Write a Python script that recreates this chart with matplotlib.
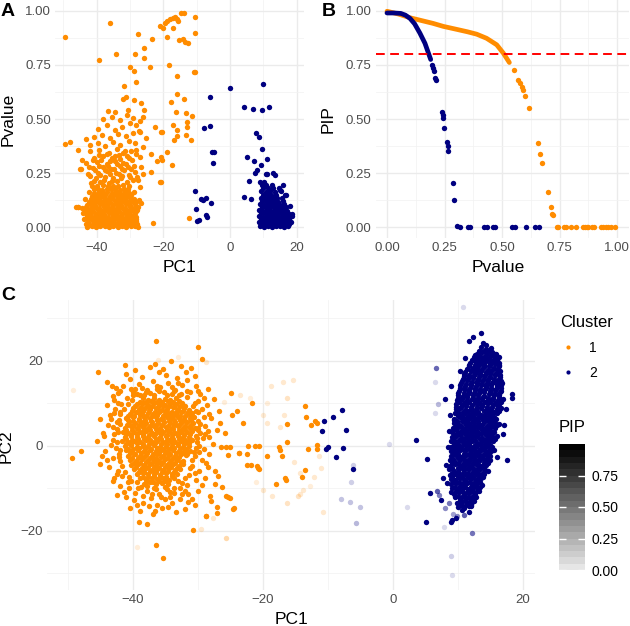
import matplotlib
matplotlib.use("Agg")
import matplotlib.pyplot as plt
from matplotlib.colors import ListedColormap, Normalize
from matplotlib.cm import ScalarMappable
from matplotlib.lines import Line2D

plt.rcParams['font.family'] = ['Liberation Sans', 'DejaVu Sans']

ORANGE = '#FF8C00'
NAVY = '#000080'

# ===============================
# Panel A : PC1 vs Pvalue
# ===============================
a_orange = [
    # dense core
    (-42.8, .003), (-41.5, .006), (-40.1, .002), (-38.9, .005), (-37.6, .004), (-36.3, .002), (-35.0, .006), (-33.7, .003), (-32.4, .005), (-31.1, .002), (-29.8, .004), (-28.5, .006), (-27.6, .003),
    (-43.3, .015), (-42.0, .012), (-40.7, .016), (-39.4, .013), (-38.2, .017), (-36.9, .012), (-35.6, .015), (-34.3, .013), (-33.0, .016), (-31.8, .012), (-30.5, .015), (-29.2, .017), (-28.0, .013),
    (-42.5, .026), (-41.2, .029), (-39.9, .024), (-38.6, .027), (-37.3, .025), (-36.0, .028), (-34.7, .024), (-33.4, .027), (-32.1, .025), (-30.8, .028), (-29.5, .024), (-28.3, .027),
    (-43.8, .038), (-42.6, .040), (-41.3, .036), (-40.0, .039), (-38.7, .037), (-37.4, .040), (-36.1, .036), (-34.8, .039), (-33.5, .037), (-32.2, .040), (-30.9, .036), (-29.6, .039), (-28.2, .037),
    (-43.0, .051), (-41.7, .049), (-40.4, .053), (-39.1, .050), (-37.8, .052), (-36.5, .049), (-35.2, .053), (-33.9, .050), (-32.6, .052), (-31.3, .049), (-30.0, .053), (-28.7, .050),
    (-44.2, .064), (-42.9, .062), (-41.6, .066), (-40.3, .063), (-39.0, .065), (-37.7, .062), (-36.4, .066), (-35.1, .063), (-33.8, .065), (-32.5, .062), (-31.2, .066), (-29.9, .063), (-28.6, .065),
    (-43.6, .077), (-42.3, .079), (-41.0, .075), (-39.7, .078), (-38.4, .076), (-37.1, .079), (-35.8, .075), (-34.5, .078), (-33.2, .076), (-31.9, .079), (-30.6, .075), (-29.3, .078), (-28.1, .076),
    (-45.6, .092), (-44.4, .090), (-43.1, .093), (-41.8, .089), (-40.5, .092), (-39.2, .090), (-37.9, .093), (-36.6, .089), (-35.3, .092), (-34.0, .090), (-32.7, .093), (-31.4, .089), (-30.1, .092), (-28.8, .090), (-27.7, .093),
    (-43.0, .104), (-41.7, .106), (-40.4, .102), (-39.1, .105), (-37.8, .103), (-36.5, .106), (-35.2, .102), (-33.9, .105), (-32.6, .103), (-31.3, .106), (-30.0, .102), (-28.6, .105),
    (-42.4, .118), (-41.1, .116), (-39.8, .120), (-38.5, .117), (-37.2, .119), (-35.9, .116), (-34.6, .120), (-33.3, .117), (-32.0, .119), (-30.7, .116), (-29.4, .120), (-28.2, .117),
    (-43.4, .132), (-41.8, .130), (-40.5, .134), (-39.2, .131), (-37.9, .133), (-36.6, .130), (-35.3, .134), (-34.0, .131), (-32.7, .133), (-31.4, .130), (-30.1, .134), (-28.9, .131),
    (-41.3, .146), (-40.0, .148), (-38.7, .144), (-37.4, .147), (-36.1, .145), (-34.8, .148), (-33.5, .144), (-32.2, .147), (-30.9, .145), (-29.6, .148),
    (-42.2, .161), (-40.7, .159), (-39.4, .163), (-38.1, .160), (-36.8, .162), (-35.5, .159), (-34.2, .163), (-32.9, .160), (-31.6, .162), (-30.3, .159), (-28.8, .163),
    (-40.9, .176), (-39.6, .178), (-38.3, .174), (-37.0, .177), (-35.7, .175), (-34.4, .178), (-33.1, .174), (-31.8, .177), (-30.5, .175),
    (-41.5, .191), (-39.9, .189), (-38.2, .193), (-36.6, .190), (-35.1, .192), (-33.5, .189), (-32.0, .193), (-30.2, .190),
    # middle band
    (-41.6, .205), (-38.9, .210), (-36.2, .203), (-33.8, .215), (-31.0, .208), (-29.1, .220),
    (-40.9, .215), (-37.9, .220), (-35.3, .214), (-32.8, .226), (-30.1, .230), (-28.0, .232),
    (-40.3, .225), (-37.5, .232), (-35.0, .228), (-32.4, .236), (-30.2, .241),
    (-42.0, .236), (-39.0, .240), (-36.1, .244), (-33.4, .245),
    (-42.5, .248), (-39.6, .252), (-36.8, .258), (-34.1, .250), (-31.7, .262), (-28.6, .255),
    (-40.4, .262), (-37.6, .266), (-34.9, .268), (-32.5, .270), (-29.6, .268),
    (-41.0, .272), (-38.2, .278), (-35.6, .270), (-33.0, .283), (-30.5, .276),
    (-42.2, .280), (-39.3, .285), (-36.5, .282), (-33.9, .290), (-31.2, .290), (-28.7, .285),
    (-43.3, .295), (-39.8, .300), (-37.0, .292), (-34.4, .305), (-32.0, .298), (-29.4, .310),
    (-41.2, .310), (-38.6, .312), (-35.9, .308), (-33.0, .315), (-30.3, .318), (-44.8, .270), (-44.5, .310),
    (-40.7, .322), (-38.0, .330), (-35.5, .318), (-33.3, .335), (-30.8, .327), (-28.2, .340),
    (-39.3, .335), (-36.8, .338), (-34.4, .328), (-32.2, .342), (-29.7, .350),
    (-41.9, .350), (-39.2, .358), (-36.4, .345), (-34.0, .362), (-31.5, .352),
    # upper scatter
    (-42.0, .380), (-39.7, .390), (-37.6, .375), (-35.2, .395), (-32.9, .382), (-30.4, .400), (-28.5, .390),
    (-40.9, .415), (-38.3, .425), (-36.0, .410), (-33.6, .430), (-31.2, .420), (-29.0, .435), (-27.3, .445),
    (-39.5, .455), (-36.9, .470), (-34.5, .450), (-32.3, .465), (-30.0, .480), (-28.1, .470),
    (-38.0, .500), (-35.4, .510), (-33.1, .495), (-31.0, .520), (-29.2, .505), (-27.0, .490),
    (-36.5, .535), (-34.4, .532), (-30.6, .540), (-26.1, .510),
    (-26.6, .573), (-25.9, .542), (-28.8, .588), (-32.1, .591), (-31.1, .603), (-26.9, .441),
    (-25.1, .410), (-26.1, .372), (-28.1, .356), (-27.1, .325), (-26.6, .279), (-26.1, .248),
    (-27.6, .218), (-27.1, .187), (-27.3, .125), (-26.6, .110), (-27.9, .079), (-28.1, .048),
    # outliers
    (-49.4, .878), (-36.1, .943), (-34.3, .800), (-39.4, .773), (-27.5, .895), (-23.5, .870),
    (-25.9, .827), (-28.6, .800), (-25.9, .784), (-30.1, .739), (-28.7, .722), (-24.1, .742),
    (-31.7, .653), (-28.3, .673), (-21.1, .930), (-20.1, .920), (-19.0, .951), (-18.0, .962),
    (-17.1, .966), (-16.5, .971), (-16.0, .962), (-19.5, .943), (-19.0, .881), (-14.8, .992),
    (-13.8, .992), (-10.5, .971), (-10.5, .897), (-15.3, .866), (-14.1, .869), (-13.5, .858),
    (-12.7, .853), (-18.3, .748), (-10.7, .719), (-10.4, .715), (-16.0, .698), (-16.0, .616),
    (-17.6, .580), (-13.8, .591), (-16.2, .532), (-13.2, .529), (-11.4, .515), (-17.1, .471),
    (-13.0, .486), (-13.0, .462), (-16.0, .449), (-16.8, .403), (-15.8, .421), (-13.2, .426),
    (-11.7, .403), (-20.6, .441), (-19.0, .347), (-20.4, .310), (-17.4, .286), (-20.8, .210),
    (-12.2, .042), (-49.6, .384), (-48.1, .395), (-45.6, .356), (-45.1, .267), (-46.1, .094),
    (-45.5, .094), (-43.3, .406), (-23.6, .338), (-21.9, .307), (-20.7, .325), (-21.1, .208),
    (-23.1, .020), (-20.3, .441), (-22.4, .464), (-23.6, .256), (-17.1, .921), (-15.6, .955),
]

a_navy = [
    # dense core
    (8.9, .004), (10.1, .003), (11.3, .005), (12.5, .002), (13.7, .004), (14.9, .006), (16.1, .003), (17.3, .005),
    (9.4, .014), (10.6, .016), (11.8, .013), (13.0, .015), (14.2, .012), (15.4, .016), (16.6, .014), (17.8, .013),
    (8.7, .026), (9.9, .024), (11.1, .027), (12.3, .025), (13.5, .028), (14.7, .024), (15.9, .027), (17.1, .025), (18.3, .026),
    (9.2, .038), (10.4, .040), (11.6, .037), (12.8, .039), (14.0, .036), (15.2, .040), (16.4, .038), (17.6, .037),
    (8.6, .051), (9.8, .049), (11.0, .052), (12.2, .050), (13.4, .053), (14.6, .049), (15.8, .052), (17.0, .050), (18.6, .051),
    (9.3, .064), (10.5, .066), (11.7, .063), (12.9, .065), (14.1, .062), (15.3, .066), (16.5, .064), (17.7, .063),
    (8.8, .078), (10.0, .076), (11.2, .079), (12.4, .077), (13.6, .080), (14.8, .076), (16.0, .079), (17.2, .077),
    (9.5, .092), (10.7, .094), (11.9, .091), (13.1, .093), (14.3, .090), (15.5, .094), (16.7, .092),
    (9.0, .106), (10.2, .104), (11.4, .107), (12.6, .105), (13.8, .108), (15.0, .104), (16.2, .107),
    (9.6, .120), (10.8, .122), (12.0, .119), (13.2, .121), (14.4, .118), (15.9, .122),
    (9.2, .135), (10.4, .133), (11.6, .136), (12.8, .134), (14.0, .137), (15.6, .133),
    (9.8, .150), (11.1, .152), (12.4, .149), (13.9, .151), (16.4, .150),
    (9.4, .165), (10.7, .163), (12.1, .166), (13.6, .164), (15.2, .167),
    (9.9, .180), (11.3, .182), (12.8, .179), (14.6, .181),
    (9.6, .195), (10.9, .197), (12.5, .194), (10.3, .210),
    (17.9, .100), (18.7, .060), (16.8, .150), (15.0, .170),
    # scattered
    (0.0, .642), (9.8, .660), (-6.0, .603), (4.3, .557), (7.0, .546), (9.5, .542), (11.6, .557),
    (-7.7, .460), (-6.1, .468), (7.8, .434), (8.6, .418), (9.7, .361), (-5.5, .347), (-4.7, .347),
    (-5.2, .295), (5.0, .323), (7.2, .307), (11.1, .315), (9.2, .287), (8.0, .264), (7.5, .251),
    (10.7, .245), (11.2, .247), (13.0, .250), (13.5, .241), (5.8, .213), (9.0, .210), (15.8, .194),
    (4.2, .140), (6.4, .130), (-10.6, .167), (-8.7, .130), (-8.2, .125), (-7.3, .137), (-5.7, .110),
    (-10.3, .082), (-7.2, .056), (-6.8, .045), (-9.8, .030), (-9.3, .031),
]

# ===============================
# Panel B : Pvalue vs PIP
# ===============================
b_orange_curve = [
    (0.0, .998), (0.05, .985), (0.10, .968), (0.15, .955), (0.20, .942), (0.245, .928),
    (0.30, .915), (0.35, .903), (0.39, .892), (0.433, .873), (0.477, .843), (0.506, .804), (0.532, .761),
]
b_orange_points = [
    (0.554, .727), (0.571, .680), (0.578, .668), (0.588, .650), (0.593, .636), (0.600, .605),
    (0.617, .552), (0.655, .387), (0.665, .336), (0.672, .298), (0.698, .161), (0.711, .092),
    (0.717, .062), (0.720, .055), (0.738, .0), (0.745, .0), (0.770, .0), (0.780, .0), (0.800, .0),
    (0.820, .0), (0.850, .0), (0.860, .0), (0.870, .0), (0.875, .0), (0.890, .0), (0.900, .0),
    (0.930, .0), (0.940, .0), (0.950, .0), (0.960, .0), (0.975, .0), (0.990, .0),
]
b_navy_curve = [
    (0.0, .990), (0.03, .990), (0.06, .988), (0.08, .980), (0.10, .965), (0.12, .940),
    (0.143, .897), (0.165, .850), (0.183, .796), (0.19, .775),
]
b_navy_points = [
    (0.196, .750), (0.200, .735), (0.206, .720), (0.210, .690), (0.213, .680), (0.238, .534),
    (0.242, .518), (0.245, .503), (0.249, .460), (0.259, .395), (0.264, .375), (0.267, .352),
    (0.286, .202), (0.293, .125), (0.303, .004), (0.317, .0), (0.354, .0), (0.361, .0),
    (0.420, .0), (0.435, .0), (0.461, .0), (0.468, .0), (0.543, .0), (0.555, .0), (0.604, .0),
    (0.645, .0), (0.659, .0),
]
pip_threshold = 0.8

# ===============================
# Panel C : PC1 vs PC2 (alpha = PIP)
# ===============================
c_orange = [
    # dense core
    (-38.4, 11.2), (-37.6, 10.8), (-36.7, 11.3), (-35.9, 10.9), (-35.0, 11.1), (-34.2, 10.7), (-33.3, 11.4),
    (-38.9, 10.4), (-38.0, 10.3), (-37.2, 10.5), (-36.3, 10.4), (-35.5, 10.3), (-34.6, 10.5), (-33.8, 10.3), (-32.9, 10.5),
    (-39.3, 9.8), (-38.5, 10.1), (-37.6, 9.7), (-36.8, 10.2), (-35.9, 9.9), (-35.1, 9.6), (-34.2, 10.0), (-33.4, 9.8), (-32.4, 10.2),
    (-39.6, 9.3), (-38.7, 9.2), (-37.8, 9.4), (-37.0, 9.3), (-36.1, 9.2), (-35.3, 9.4), (-34.4, 9.3), (-33.6, 9.2), (-32.7, 9.4), (-31.9, 9.3),
    (-39.9, 8.9), (-39.0, 8.6), (-38.1, 9.0), (-37.3, 8.7), (-36.4, 8.9), (-35.5, 8.5), (-34.7, 8.8), (-33.8, 9.1), (-33.0, 8.6), (-32.1, 8.9), (-31.4, 8.5),
    (-40.1, 8.2), (-39.2, 8.1), (-38.4, 8.3), (-37.5, 8.2), (-36.6, 8.1), (-35.8, 8.3), (-34.9, 8.2), (-34.0, 8.1), (-33.2, 8.3), (-32.3, 8.2), (-31.5, 8.1),
    (-40.4, 7.6), (-39.5, 7.9), (-38.6, 7.5), (-37.7, 7.8), (-36.9, 7.6), (-36.0, 7.9), (-35.1, 7.5), (-34.3, 7.8), (-33.4, 7.6), (-32.6, 7.9), (-31.7, 7.5), (-30.9, 7.7),
    (-40.7, 7.1), (-39.8, 7.0), (-38.9, 7.2), (-38.0, 7.1), (-37.1, 7.0), (-36.3, 7.2), (-35.4, 7.1), (-34.5, 7.0), (-33.6, 7.2), (-32.8, 7.1), (-31.9, 7.0), (-31.0, 7.2),
    (-41.0, 6.5), (-40.0, 6.8), (-39.1, 6.4), (-38.2, 6.7), (-37.3, 6.5), (-36.5, 6.8), (-35.6, 6.4), (-34.7, 6.7), (-33.9, 6.5), (-33.0, 6.8), (-32.1, 6.4), (-31.2, 6.6), (-30.6, 6.9),
    (-40.8, 6.0), (-39.9, 5.9), (-39.0, 6.1), (-38.1, 6.0), (-37.2, 5.9), (-36.3, 6.1), (-35.4, 6.0), (-34.5, 5.9), (-33.6, 6.1), (-32.8, 6.0), (-31.9, 5.9), (-31.0, 6.1),
    (-40.6, 5.6), (-39.7, 5.3), (-38.8, 5.6), (-37.9, 5.4), (-37.0, 5.7), (-36.1, 5.3), (-35.2, 5.6), (-34.3, 5.4), (-33.5, 5.7), (-32.6, 5.3), (-31.7, 5.6), (-30.8, 5.4),
    (-40.9, 4.9), (-40.0, 4.8), (-39.1, 5.0), (-38.2, 4.9), (-37.3, 4.8), (-36.4, 5.0), (-35.5, 4.9), (-34.6, 4.8), (-33.7, 5.0), (-32.9, 4.9), (-32.0, 4.8), (-31.1, 5.0),
    (-41.2, 4.3), (-40.3, 4.6), (-39.4, 4.2), (-38.5, 4.5), (-37.6, 4.3), (-36.7, 4.6), (-35.8, 4.2), (-34.9, 4.5), (-34.0, 4.3), (-33.1, 4.6), (-32.2, 4.2), (-31.3, 4.5), (-30.5, 4.3),
    (-41.0, 3.8), (-40.1, 3.7), (-39.2, 3.9), (-38.3, 3.8), (-37.4, 3.7), (-36.5, 3.9), (-35.6, 3.8), (-34.7, 3.7), (-33.8, 3.9), (-32.9, 3.8), (-32.0, 3.7), (-31.1, 3.9),
    (-41.5, 3.4), (-40.7, 3.1), (-39.8, 3.4), (-38.9, 3.2), (-38.0, 3.5), (-37.1, 3.1), (-36.2, 3.4), (-35.3, 3.2), (-34.4, 3.5), (-33.5, 3.1), (-32.6, 3.4), (-31.7, 3.2), (-30.9, 3.5),
    (-41.1, 2.7), (-40.2, 2.6), (-39.3, 2.8), (-38.4, 2.7), (-37.5, 2.6), (-36.6, 2.8), (-35.7, 2.7), (-34.8, 2.6), (-33.9, 2.8), (-33.0, 2.7), (-32.1, 2.6), (-31.2, 2.8),
    (-41.2, 2.1), (-40.3, 2.4), (-39.4, 2.0), (-38.5, 2.3), (-37.6, 2.1), (-36.7, 2.4), (-35.8, 2.0), (-34.9, 2.3), (-34.0, 2.1), (-33.1, 2.4), (-32.2, 2.0), (-31.3, 2.2),
    (-41.0, 1.6), (-40.1, 1.5), (-39.2, 1.7), (-38.3, 1.6), (-37.4, 1.5), (-36.5, 1.7), (-35.6, 1.6), (-34.7, 1.5), (-33.8, 1.7), (-32.9, 1.6), (-32.0, 1.5), (-31.2, 1.7),
    (-41.6, 1.2), (-40.7, 0.9), (-39.8, 1.2), (-38.9, 1.0), (-38.0, 1.3), (-37.1, 0.9), (-36.2, 1.2), (-35.3, 1.0), (-34.4, 1.3), (-33.5, 0.9), (-32.6, 1.2), (-31.7, 1.0), (-30.9, 1.3),
    (-41.1, 0.5), (-40.2, 0.4), (-39.3, 0.6), (-38.4, 0.5), (-37.5, 0.4), (-36.6, 0.6), (-35.7, 0.5), (-34.8, 0.4), (-33.9, 0.6), (-33.0, 0.5), (-32.1, 0.4), (-31.3, 0.6),
    (-41.2, -0.1), (-40.3, 0.2), (-39.4, -0.2), (-38.5, 0.1), (-37.6, -0.1), (-36.7, 0.2), (-35.8, -0.2), (-34.9, 0.1), (-34.0, -0.1), (-33.1, 0.2), (-32.2, -0.2), (-31.3, 0.1),
    (-40.8, -0.6), (-39.9, -0.7), (-39.0, -0.5), (-38.1, -0.6), (-37.2, -0.7), (-36.3, -0.5), (-35.4, -0.6), (-34.5, -0.7), (-33.6, -0.5), (-32.7, -0.6), (-31.8, -0.7),
    (-41.0, -1.0), (-40.1, -1.3), (-39.2, -0.9), (-38.3, -1.2), (-37.4, -1.0), (-36.5, -1.3), (-35.6, -0.9), (-34.7, -1.2), (-33.8, -1.0), (-32.9, -1.3), (-32.0, -0.9), (-31.2, -1.1),
    (-40.5, -1.7), (-39.6, -1.8), (-38.7, -1.6), (-37.8, -1.7), (-36.9, -1.8), (-36.0, -1.6), (-35.1, -1.7), (-34.2, -1.8), (-33.3, -1.6), (-32.4, -1.7), (-31.6, -1.8),
    (-40.7, -2.3), (-39.8, -2.0), (-38.9, -2.3), (-38.0, -2.1), (-37.1, -2.4), (-36.2, -2.0), (-35.3, -2.3), (-34.4, -2.1), (-33.5, -2.4), (-32.6, -2.0), (-31.8, -2.2),
    (-40.1, -2.8), (-39.2, -2.9), (-38.3, -2.7), (-37.4, -2.8), (-36.5, -2.9), (-35.6, -2.7), (-34.7, -2.8), (-33.8, -2.9), (-32.9, -2.7),
    (-40.5, -3.2), (-39.5, -3.5), (-38.6, -3.1), (-37.7, -3.4), (-36.8, -3.2), (-35.9, -3.5), (-35.0, -3.1), (-34.1, -3.4), (-33.2, -3.2), (-32.3, -3.5),
    (-39.8, -3.9), (-38.9, -4.0), (-38.0, -3.8), (-37.1, -3.9), (-36.2, -4.0), (-35.3, -3.8), (-34.4, -3.9), (-33.5, -4.0), (-32.6, -3.8),
    (-40.2, -4.5), (-39.2, -4.2), (-38.3, -4.5), (-37.4, -4.3), (-36.5, -4.6), (-35.6, -4.2), (-34.7, -4.5), (-33.8, -4.3), (-32.9, -4.6), (-32.2, -4.3),
    (-39.5, -5.0), (-38.6, -5.1), (-37.7, -4.9), (-36.8, -5.0), (-35.9, -5.1), (-35.0, -4.9), (-34.1, -5.0), (-33.2, -5.1),
    (-39.8, -5.4), (-38.9, -5.7), (-38.0, -5.3), (-37.1, -5.6), (-36.2, -5.4), (-35.3, -5.7), (-34.4, -5.3), (-33.5, -5.6), (-32.7, -5.4),
    (-39.1, -6.1), (-38.2, -6.2), (-37.3, -6.0), (-36.4, -6.1), (-35.5, -6.2), (-34.6, -6.0), (-33.7, -6.1),
    (-39.4, -6.7), (-38.5, -6.4), (-37.6, -6.7), (-36.7, -6.5), (-35.8, -6.8), (-34.9, -6.4), (-34.0, -6.7), (-33.2, -6.5),
    (-38.5, -7.2), (-37.6, -7.3), (-36.7, -7.1), (-35.8, -7.2), (-34.9, -7.3), (-34.0, -7.1),
    (-38.9, -7.6), (-38.0, -7.9), (-37.1, -7.5), (-36.2, -7.8), (-35.3, -7.6), (-34.4, -7.9), (-33.6, -7.6),
    (-37.8, -8.3), (-36.9, -8.4), (-36.0, -8.2), (-35.1, -8.3),
    (-38.2, -8.9), (-37.3, -8.6), (-36.4, -8.9), (-35.5, -8.7), (-34.6, -9.0),
    # band around the core
    (-40.0, 12.6), (-38.9, 11.9), (-37.9, 12.8), (-36.8, 12.1), (-35.9, 12.9), (-34.8, 12.0), (-33.7, 12.9), (-32.6, 12.2),
    (-31.6, 13.0), (-36.2, 13.3), (-34.0, 13.8), (-38.6, 13.7),
    (-42.3, 10.2), (-42.0, 8.0), (-42.5, 5.6), (-42.2, 3.3), (-42.4, 1.0), (-41.9, -0.9), (-42.1, -2.6), (-41.6, -4.8),
    (-41.2, -6.1), (-40.6, -7.4), (-40.2, -8.3), (-42.9, 7.7),
    (-30.4, 10.1), (-30.0, 7.9), (-29.6, 5.1), (-29.9, 3.7), (-30.1, 1.8), (-29.8, 0.0), (-30.6, -1.5), (-30.9, -3.4),
    (-31.2, -5.3), (-31.9, -7.6), (-32.4, -8.8), (-28.9, 2.9),
    (-39.2, -9.9), (-37.8, -9.5), (-36.4, -10.2), (-35.0, -9.6), (-33.6, -9.9), (-37.1, -11.2), (-34.3, -10.9), (-38.5, -11.8),
    (-35.6, -12.1), (-32.5, -11.3),
    # surrounding ring
    (-41.5, 14.0), (-40.2, 13.5), (-39.0, 14.6), (-37.8, 13.2), (-36.9, 15.3), (-35.8, 13.8), (-34.6, 14.9), (-33.5, 13.1),
    (-32.4, 14.4), (-31.2, 12.8), (-30.3, 14.1), (-29.6, 12.3), (-42.3, 12.5), (-38.6, 16.2), (-36.0, 17.4), (-34.9, 16.8),
    (-33.2, 16.0), (-31.8, 17.3), (-30.5, 16.5), (-40.4, 15.8), (-39.7, 17.9), (-37.3, 18.6), (-35.3, 18.2), (-32.6, 18.9),
    (-31.0, 18.4), (-36.6, 19.4), (-34.1, 20.1), (-37.4, 12.4), (-35.2, 12.6), (-33.9, 12.2), (-39.3, 12.3), (-41.0, 16.9),
    (-43.2, 14.2), (-42.6, 13.6), (-32.9, 11.9),
    (-44.0, 9.6), (-43.5, 7.2), (-42.7, 8.8), (-42.1, 6.1), (-43.8, 5.0), (-42.4, 3.9), (-44.5, 2.4), (-43.1, 1.5),
    (-42.6, -0.4), (-44.2, -1.2), (-43.0, -2.8), (-42.0, -3.6), (-43.6, -4.9), (-42.3, -5.8), (-41.7, -7.0), (-43.1, -8.2),
    (-42.0, -9.5), (-41.3, -10.8), (-42.9, 10.9), (-41.8, 9.9), (-45.0, 6.3),
    (-30.0, 10.6), (-29.3, 8.7), (-28.6, 9.6), (-29.9, 5.9), (-28.9, 4.8), (-27.9, 6.6), (-29.6, 3.0), (-28.3, 2.1),
    (-30.1, 1.0), (-29.0, -0.6), (-27.6, 0.4), (-30.4, -2.4), (-29.4, -3.2), (-28.2, -2.0), (-30.9, -4.6), (-29.8, -5.8),
    (-28.5, -4.9), (-31.3, -6.9), (-30.2, -8.1), (-28.9, -7.5), (-31.6, -9.2), (-30.0, -10.6), (-27.4, -9.0), (-28.1, -11.8),
    (-27.0, 3.8),
    (-40.6, -9.9), (-39.6, -11.0), (-38.7, -9.6), (-37.8, -10.7), (-36.8, -9.8), (-35.9, -11.3), (-34.8, -10.1), (-33.7, -11.0),
    (-32.8, -9.9), (-39.8, -12.7), (-38.4, -13.4), (-37.2, -12.3), (-36.2, -13.8), (-35.1, -12.6), (-33.9, -13.5), (-32.7, -12.4),
    (-31.5, -13.2), (-40.4, -14.6), (-38.9, -15.2), (-36.9, -15.9), (-36.6, -15.2), (-35.5, -14.7), (-33.3, -15.5), (-31.9, -14.9),
    (-30.4, -13.8), (-39.4, -8.4), (-33.0, -8.2), (-34.3, -12.1),
    (-43.0, 11.8), (-41.9, 12.9), (-40.9, 11.4), (-39.6, 13.3), (-38.2, 12.0), (-36.3, 14.2), (-33.0, 14.9), (-31.6, 15.6),
    (-30.0, 13.0), (-29.1, 11.2), (-28.2, 7.6), (-29.0, 6.8), (-28.5, 3.5), (-29.2, 1.8), (-30.3, -0.5), (-29.8, -1.5),
    (-28.8, -3.9), (-30.4, -6.3), (-29.3, -9.3), (-31.5, -11.2), (-30.9, -12.5), (-32.0, -10.7), (-34.6, -14.4), (-37.5, -14.2),
    (-39.3, -13.9), (-41.0, -12.1), (-40.8, -8.6), (-42.5, -6.5), (-43.9, -3.3), (-42.1, -1.9), (-43.3, 0.3), (-42.9, 2.8),
    (-43.0, 4.5), (-41.9, 5.2), (-43.3, 6.4), (-42.0, 7.6), (-41.3, 8.6), (-40.7, 9.8), (-40.1, 10.9), (-39.9, 12.0),
    (-31.6, 11.6), (-30.7, 9.4), (-30.3, 8.2), (-29.9, 4.3), (-30.2, 2.4),
    # outer points
    (-49.4, -2.9), (-47.9, -1.3), (-45.3, 17.5), (-44.0, 15.1), (-41.2, 19.1), (-36.5, 24.8), (-30.0, 23.2), (-29.4, 20.4),
    (-36.5, -23.3), (-35.4, -26.3), (-39.0, -18.0), (-37.8, -18.4), (-30.7, -19.8), (-44.8, -2.4), (-45.1, -4.2), (-45.5, 1.2),
    (-44.6, 3.1), (-42.4, -11.5), (-42.9, -7.6), (-28.7, -16.6), (-27.1, -15.8), (-26.2, -9.7), (-25.4, -11.9), (-24.5, -14.9),
    (-26.9, -7.1), (-25.3, -2.1), (-25.1, -0.2), (-23.7, -1.7), (-24.7, 7.4), (-24.0, 8.3), (-24.9, 12.4), (-23.1, 5.3),
    (-22.3, -0.1), (-21.2, 0.0), (-20.5, -0.1), (-22.4, -4.5), (-21.8, -4.5), (-20.7, -5.3), (-21.6, 10.2), (-19.4, -2.4),
    (-17.5, -0.3), (-17.3, -1.0), (-17.1, -2.4), (-17.9, -8.9), (-16.3, 5.2), (-16.3, 1.0), (-16.5, -7.5), (-16.4, -8.0),
    (-13.5, 9.3), (-13.4, 6.9), (-12.5, 4.9), (-12.0, 5.9), (-11.6, 5.5), (-13.1, -0.8), (-11.7, 0.2), (-11.6, -0.6),
    (-13.5, -5.6), (-14.0, -7.2), (-24.4, -14.7), (-25.1, -12.3), (-25.6, -11.8), (-27.1, -14.3), (-28.8, -16.6),
    (-26.8, 8.2), (-25.8, 3.0), (-26.4, -0.3), (-25.7, -0.3), (-23.6, -1.7), (-22.4, -1.8), (-20.9, -4.7), (-20.6, -5.4),
    (-27.5, 11.0), (-28.5, 13.5), (-26.6, 5.5), (-27.3, -5.8), (-28.0, -13.0),
]

c_navy = [
    # dense core
    (13.6, 23.2), (14.4, 22.8), (15.2, 23.1),
    (13.3, 22.4), (14.1, 22.3), (14.9, 22.5),
    (12.9, 21.7), (13.7, 22.1), (14.5, 21.8), (15.3, 22.0), (15.9, 21.6),
    (12.7, 21.3), (13.5, 21.2), (14.3, 21.4), (15.1, 21.3), (15.7, 21.2),
    (12.5, 20.9), (13.2, 20.6), (14.0, 21.0), (14.8, 20.7), (15.6, 20.9),
    (12.2, 20.2), (12.9, 20.1), (13.7, 20.3), (14.5, 20.2), (15.3, 20.1), (16.0, 20.3),
    (11.9, 19.5), (12.7, 19.9), (13.5, 19.6), (14.2, 19.8), (15.0, 19.5), (15.8, 19.9), (16.3, 19.6),
    (11.8, 19.1), (12.6, 19.0), (13.4, 19.2), (14.1, 19.1), (14.9, 19.0), (15.7, 19.2), (16.3, 19.1),
    (11.7, 18.8), (12.4, 18.4), (13.2, 18.7), (14.0, 18.5), (14.8, 18.8), (15.6, 18.4), (16.3, 18.7),
    (11.5, 18.0), (12.2, 17.9), (13.0, 18.1), (13.8, 18.0), (14.6, 17.9), (15.4, 18.1), (16.2, 18.0),
    (11.2, 17.4), (12.0, 17.7), (12.8, 17.3), (13.6, 17.6), (14.4, 17.4), (15.2, 17.7), (16.0, 17.3), (16.5, 17.6),
    (11.0, 16.9), (11.8, 16.8), (12.6, 17.0), (13.4, 16.9), (14.2, 16.8), (15.0, 17.0), (15.8, 16.9), (16.5, 16.8),
    (10.9, 16.5), (11.7, 16.2), (12.5, 16.6), (13.3, 16.3), (14.1, 16.5), (14.9, 16.2), (15.7, 16.6), (16.5, 16.3),
    (10.8, 15.8), (11.6, 15.7), (12.4, 15.9), (13.2, 15.8), (14.0, 15.7), (14.8, 15.9), (15.6, 15.8), (16.4, 15.7),
    (10.7, 15.2), (11.4, 15.5), (12.2, 15.1), (13.0, 15.4), (13.8, 15.2), (14.6, 15.5), (15.4, 15.1), (16.2, 15.4), (16.7, 15.2),
    (10.5, 14.7), (11.3, 14.6), (12.1, 14.8), (12.9, 14.7), (13.7, 14.6), (14.5, 14.8), (15.3, 14.7), (16.1, 14.6), (16.7, 14.8),
    (10.4, 14.3), (11.2, 14.0), (12.0, 14.4), (12.8, 14.1), (13.6, 14.3), (14.4, 14.0), (15.2, 14.4), (16.0, 14.1), (16.6, 14.3),
    (10.3, 13.6), (11.1, 13.5), (11.9, 13.7), (12.7, 13.6), (13.5, 13.5), (14.3, 13.7), (15.1, 13.6), (15.9, 13.5), (16.6, 13.7),
    (10.2, 13.0), (11.0, 13.3), (11.8, 12.9), (12.6, 13.2), (13.4, 13.0), (14.2, 13.3), (15.0, 12.9), (15.8, 13.2), (16.6, 13.0),
    (10.1, 12.5), (10.9, 12.4), (11.7, 12.6), (12.5, 12.5), (13.3, 12.4), (14.1, 12.6), (14.9, 12.5), (15.7, 12.4), (16.5, 12.6),
    (10.0, 12.1), (10.8, 11.8), (11.6, 12.2), (12.4, 11.9), (13.2, 12.1), (14.0, 11.8), (14.8, 12.2), (15.6, 11.9), (16.4, 12.1),
    (10.0, 11.4), (10.7, 11.3), (11.5, 11.5), (12.3, 11.4), (13.1, 11.3), (13.9, 11.5), (14.7, 11.4), (15.5, 11.3), (16.3, 11.5),
    (9.9, 10.8), (10.6, 11.1), (11.4, 10.7), (12.2, 11.0), (13.0, 10.8), (13.8, 11.1), (14.6, 10.7), (15.4, 11.0), (16.2, 10.8), (16.9, 11.1),
    (10.2, 10.3), (11.0, 10.2), (11.8, 10.4), (12.6, 10.3), (13.4, 10.2), (14.2, 10.4), (15.0, 10.3), (15.8, 10.2), (16.6, 10.4),
    (9.8, 9.9), (10.6, 9.6), (11.4, 10.0), (12.2, 9.7), (13.0, 9.9), (13.8, 9.6), (14.6, 10.0), (15.4, 9.7), (16.3, 9.9),
    (9.7, 9.2), (10.5, 9.1), (11.3, 9.3), (12.1, 9.2), (12.9, 9.1), (13.7, 9.3), (14.5, 9.2), (15.3, 9.1), (16.2, 9.3),
    (9.7, 8.6), (10.4, 8.9), (11.2, 8.5), (12.0, 8.8), (12.8, 8.6), (13.6, 8.9), (14.4, 8.5), (15.2, 8.8), (16.0, 8.6), (16.7, 8.9),
    (10.0, 8.1), (10.8, 8.0), (11.6, 8.2), (12.4, 8.1), (13.2, 8.0), (14.0, 8.2), (14.8, 8.1), (15.6, 8.0), (16.4, 8.2),
    (9.6, 7.7), (10.4, 7.4), (11.2, 7.8), (12.0, 7.5), (12.8, 7.7), (13.6, 7.4), (14.4, 7.8), (15.2, 7.5), (16.1, 7.7),
    (10.0, 7.0), (10.8, 6.9), (11.6, 7.1), (12.4, 7.0), (13.2, 6.9), (14.0, 7.1), (14.8, 7.0), (15.6, 6.9),
    (9.5, 6.4), (10.3, 6.7), (11.1, 6.3), (11.9, 6.6), (12.7, 6.4), (13.5, 6.7), (14.3, 6.3), (15.1, 6.6), (15.9, 6.4),
    (9.9, 5.9), (10.7, 5.8), (11.5, 6.0), (12.3, 5.9), (13.1, 5.8), (13.9, 6.0), (14.7, 5.9), (15.5, 5.8),
    (9.4, 5.5), (10.1, 5.2), (10.9, 5.6), (11.7, 5.3), (12.5, 5.5), (13.3, 5.2), (14.1, 5.6), (14.9, 5.3), (15.7, 5.5), (16.3, 5.2),
    (9.7, 4.8), (10.5, 4.7), (11.3, 4.9), (12.1, 4.8), (12.9, 4.7), (13.7, 4.9), (14.5, 4.8), (15.3, 4.7), (16.1, 4.9),
    (9.3, 4.2), (10.1, 4.5), (10.9, 4.1), (11.7, 4.4), (12.5, 4.2), (13.3, 4.5), (14.1, 4.1), (14.9, 4.4), (15.8, 4.2),
    (9.7, 3.7), (10.5, 3.6), (11.3, 3.8), (12.1, 3.7), (12.9, 3.6), (13.7, 3.8), (14.5, 3.7), (15.2, 3.6),
    (9.2, 3.3), (10.0, 3.0), (10.8, 3.4), (11.6, 3.1), (12.4, 3.3), (13.2, 3.0), (14.0, 3.4), (14.8, 3.1), (15.6, 3.3),
    (9.6, 2.6), (10.4, 2.5), (11.2, 2.7), (12.0, 2.6), (12.8, 2.5), (13.6, 2.7), (14.4, 2.6), (15.2, 2.5),
    (9.1, 2.0), (9.8, 2.3), (10.6, 1.9), (11.4, 2.2), (12.2, 2.0), (13.0, 2.3), (13.8, 1.9), (14.6, 2.2), (15.4, 2.0), (16.0, 2.3),
    (9.4, 1.5), (10.2, 1.4), (11.0, 1.6), (11.8, 1.5), (12.6, 1.4), (13.4, 1.6), (14.2, 1.5), (15.0, 1.4), (15.7, 1.6),
    (9.0, 1.1), (9.8, 0.8), (10.6, 1.2), (11.4, 0.9), (12.2, 1.1), (13.0, 0.8), (13.8, 1.2), (14.6, 0.9), (15.4, 1.1),
    (9.4, 0.4), (10.2, 0.3), (11.0, 0.5), (11.8, 0.4), (12.6, 0.3), (13.4, 0.5), (14.2, 0.4), (15.0, 0.3),
    (9.0, -0.2), (9.7, 0.1), (10.5, -0.3), (11.3, 0.0), (12.1, -0.2), (12.9, 0.1), (13.7, -0.3), (14.5, 0.0), (15.3, -0.2),
    (9.3, -0.8), (10.1, -0.7), (10.9, -0.9), (11.7, -0.8), (12.5, -0.7), (13.3, -0.9), (14.1, -0.8), (14.9, -0.7),
    (8.9, -1.1), (9.6, -1.4), (10.4, -1.0), (11.2, -1.3), (12.0, -1.1), (12.8, -1.4), (13.6, -1.0), (14.4, -1.3), (15.1, -1.1),
    (9.3, -1.9), (10.1, -1.8), (10.9, -2.0), (11.7, -1.9), (12.5, -1.8), (13.3, -2.0), (14.1, -1.9), (14.8, -1.8),
    (8.9, -2.4), (9.7, -2.1), (10.5, -2.5), (11.3, -2.2), (12.1, -2.4), (12.9, -2.1), (13.7, -2.5), (14.5, -2.2), (15.0, -2.4),
    (9.3, -3.0), (10.1, -2.9), (10.9, -3.1), (11.7, -3.0), (12.5, -2.9), (13.3, -3.1), (14.1, -3.0), (14.7, -2.9),
    (8.8, -3.3), (9.5, -3.6), (10.3, -3.2), (11.1, -3.5), (11.9, -3.3), (12.7, -3.6), (13.5, -3.2), (14.3, -3.5), (14.9, -3.3),
    (9.2, -4.1), (10.0, -4.0), (10.8, -4.2), (11.6, -4.1), (12.4, -4.0), (13.2, -4.2), (14.0, -4.1), (14.6, -4.0),
    (8.8, -4.6), (9.6, -4.3), (10.4, -4.7), (11.2, -4.4), (12.0, -4.6), (12.8, -4.3), (13.6, -4.7), (14.4, -4.4),
    (9.2, -5.2), (10.0, -5.1), (10.8, -5.3), (11.6, -5.2), (12.4, -5.1), (13.2, -5.3), (14.0, -5.2),
    (8.7, -5.5), (9.4, -5.8), (10.2, -5.4), (11.0, -5.7), (11.8, -5.5), (12.6, -5.8), (13.4, -5.4), (14.2, -5.7),
    (9.2, -6.3), (10.0, -6.2), (10.8, -6.4), (11.6, -6.3), (12.4, -6.2), (13.2, -6.4), (13.9, -6.3),
    (8.8, -6.8), (9.6, -6.5), (10.4, -6.9), (11.2, -6.6), (12.0, -6.8), (12.8, -6.5), (13.6, -6.9), (14.1, -6.6),
    (9.2, -7.4), (10.0, -7.3), (10.8, -7.5), (11.6, -7.4), (12.4, -7.3), (13.2, -7.5), (13.9, -7.4),
    (8.9, -7.7), (9.6, -8.0), (10.4, -7.6), (11.2, -7.9), (12.0, -7.7), (12.8, -8.0), (13.6, -7.6),
    (9.4, -8.5), (10.2, -8.4), (11.0, -8.6), (11.8, -8.5), (12.6, -8.4), (13.4, -8.6),
    (9.0, -9.0), (9.8, -8.7), (10.6, -9.1), (11.4, -8.8), (12.2, -9.0), (13.0, -8.7), (13.7, -9.1),
    (9.6, -9.6), (10.4, -9.5), (11.2, -9.7), (12.0, -9.6), (12.8, -9.5), (13.4, -9.7),
    (9.2, -9.9), (10.0, -10.2), (10.8, -9.8), (11.6, -10.1), (12.4, -9.9), (13.1, -10.2),
    (9.8, -10.7), (10.6, -10.6), (11.4, -10.8), (12.2, -10.7), (12.9, -10.6),
    (9.4, -11.2), (10.2, -10.9), (11.0, -11.3), (11.8, -11.0), (12.6, -11.2),
    (10.0, -11.8), (10.8, -11.7), (11.6, -11.9), (12.4, -11.8),
    (9.6, -12.1), (10.4, -12.4), (11.2, -12.0), (12.0, -12.3), (12.7, -12.1),
    (10.3, -12.9), (11.1, -12.8), (11.9, -13.0), (12.5, -12.9),
    (9.9, -13.4), (10.7, -13.1), (11.5, -13.5), (12.2, -13.2),
    (10.5, -14.0), (11.3, -13.9), (12.0, -14.1),
    (10.1, -14.3), (10.9, -14.6), (11.7, -14.2),
    # edges
    (13.6, 26.5), (12.3, 25.7), (11.7, 24.7), (13.9, 24.3), (14.3, 23.8), (15.7, 21.6), (16.4, 21.0), (16.0, 20.2),
    (18.4, 12.2), (18.3, 11.2), (17.5, 8.6), (17.6, -3.3), (16.0, -2.5), (8.0, 11.1), (8.8, 7.3), (9.5, 6.1),
    (8.5, -0.2), (7.7, -7.6), (8.3, -8.8), (7.5, -12.7), (9.2, -17.4), (9.8, -17.0), (10.6, -15.1), (11.8, -15.5),
    (12.1, -13.9), (17.2, 5.0), (16.8, 14.8), (11.2, 20.8), (10.4, 17.6), (8.6, 3.6), (8.2, -4.4), (12.8, -12.0),
    (13.3, -10.5), (14.7, -6.0), (15.6, -1.0), (16.9, 2.8), (9.0, -10.8), (8.9, 14.0),
    # scattered
    (3.6, 1.4), (5.3, -3.1), (5.7, -11.0), (5.2, -18.0), (9.0, -17.8),
    (-10.6, 5.9), (-9.2, 6.7), (-7.8, 8.5), (-10.9, 3.5), (-7.2, 3.8), (-10.3, -0.8), (-9.9, -0.2),
    (-7.6, -0.5), (-8.8, -2.5), (-6.1, -5.4),
]

# low-PIP points: (PC1, PC2, PIP)
c_orange_low = [
    (-18.8, 14.2, .10), (-16.9, 15.1, .10), (-16.3, 11.4, .15), (-20.0, 7.3, .08), (-19.3, 5.5, .10),
    (-16.7, 7.3, .10), (-17.4, 4.4, .10), (-23.5, 12.0, .10), (-26.0, 10.4, .05), (-19.4, 10.0, .05),
    (-15.2, -3.7, .10), (-14.3, -6.4, .10), (-13.8, -10.4, .10), (-14.6, -11.7, .15), (-18.5, -11.8, .10),
    (-16.3, -13.5, .15), (-20.0, -10.4, .10), (-11.0, -5.1, .10), (-10.7, -15.5, .10), (-12.1, -7.2, .10),
    (-11.4, -2.4, .10), (-49.2, 13.2, .05), (-36.1, 20.2, .05), (-28.8, 19.8, .10), (-39.3, -23.7, .05),
    (-25.6, -21.6, .25), (-27.6, -17.0, .10), (-15.3, 15.5, .10), (-14.2, -11.4, .10), (-22.0, 11.2, .05),
    (-21.0, -8.5, .05), (-12.8, -9.5, .05), (-29.5, -19.5, .10), (-33.0, 21.0, .05),
]
c_navy_low = [
    (6.5, 15.1, .05), (7.0, 9.9, .20), (6.5, 7.7, .05), (-0.6, 0.4, .05), (2.2, -14.3, .05),
    (7.9, -19.1, .05), (9.0, -25.9, .10), (9.1, -30.4, .05), (10.8, 32.6, .05), (-6.1, -4.5, .10),
    (-6.4, -8.6, .10), (-8.0, -12.5, .15), (-6.6, -13.1, .15), (-5.1, -14.4, .15), (-5.7, -18.2, .20),
    (6.6, 18.3, .55), (8.0, -14.5, .40), (9.3, -16.0, .30), (7.2, -11.5, .45), (12.2, -20.4, .50),
    (8.6, -13.5, .50), (9.9, -16.5, .40), (6.8, -10.5, .60), (11.0, -16.3, .60),
]

# ===============================
# Figure
# ===============================
W, H = 630, 626
fig = plt.figure(figsize=(W / 100, H / 100), dpi=100)


def px_axes(left, top, right, bottom):
    return fig.add_axes([left / W, 1 - bottom / H, (right - left) / W, (bottom - top) / H])


def ftext(x, y, s, **kw):
    fig.text(x / W, 1 - y / H, s, **kw)


def style(ax, xmaj, xlab, xmin, ymaj, ylab, ymin):
    ax.set_xticks(xmaj)
    ax.set_xticklabels(xlab)
    ax.set_xticks(xmin, minor=True)
    ax.set_yticks(ymaj)
    ax.set_yticklabels(ylab)
    ax.set_yticks(ymin, minor=True)
    ax.grid(which='major', color='#EBEBEB', lw=1.0)
    ax.grid(which='minor', color='#F2F2F2', lw=0.55)
    ax.set_axisbelow(True)
    for s in ax.spines.values():
        s.set_visible(False)
    ax.tick_params(which='both', length=0, labelsize=9.5, labelcolor='#4D4D4D', pad=3)


def xy(points):
    return [p[0] for p in points], [p[1] for p in points]


MS = 15
pval_ticks = [0, 0.25, 0.5, 0.75, 1.0]
pval_labels = ['0.00', '0.25', '0.50', '0.75', '1.00']
pval_minor = [0.125, 0.375, 0.625, 0.875]

# ---- A
axA = px_axes(55, 0, 304, 238)
x, y = xy(a_orange)
axA.scatter(x, y, s=MS, c=ORANGE, lw=0)
x, y = xy(a_navy)
axA.scatter(x, y, s=MS, c=NAVY, lw=0)
axA.set_xlim(-52.5, 22.2)
axA.set_ylim(-0.05, 1.05)
style(axA, [-40, -20, 0, 20], ['\u221240', '\u221220', '0', '20'], [-50, -30, -10, 10],
      pval_ticks, pval_labels, pval_minor)

# ---- B
axB = px_axes(375.5, 0, 628.5, 238)
x, y = xy(b_orange_curve)
axB.plot(x, y, color=ORANGE, lw=3.4, solid_capstyle='round')
x, y = xy(b_orange_points)
axB.scatter(x, y, s=MS, c=ORANGE, lw=0)
x, y = xy(b_navy_curve)
axB.plot(x, y, color=NAVY, lw=3.4, solid_capstyle='round')
x, y = xy(b_navy_points)
axB.scatter(x, y, s=MS, c=NAVY, lw=0)
axB.axhline(pip_threshold, color='#FF0000', lw=1.4, ls=(0, (4.5, 2.8)))
axB.set_xlim(-0.05, 1.05)
axB.set_ylim(-0.05, 1.05)
style(axB, pval_ticks, pval_labels, pval_minor, pval_ticks, pval_labels, pval_minor)

# ---- C
axC = px_axes(47, 300, 535, 590)
for pts, col in [(c_orange_low, ORANGE), (c_navy_low, NAVY)]:
    for px_, py_, pip in pts:
        axC.scatter([px_], [py_], s=MS, c=col, lw=0, alpha=0.1 + 0.9 * pip)
x, y = xy(c_orange)
axC.scatter(x, y, s=MS, c=ORANGE, lw=0)
x, y = xy(c_navy)
axC.scatter(x, y, s=MS, c=NAVY, lw=0)
axC.set_xlim(-53.2, 21.9)
axC.set_ylim(-33.9, 34.35)
style(axC, [-40, -20, 0, 20], ['\u221240', '\u221220', '0', '20'], [-50, -30, -10, 10],
      [-20, 0, 20], ['\u221220', '0', '20'], [-30, -10, 10, 30])

# ---- labels
ftext(1, 11, 'A', fontsize=14, fontweight='bold', ha='left', va='center')
ftext(322, 11, 'B', fontsize=14, fontweight='bold', ha='left', va='center')
ftext(1, 295, 'C', fontsize=14, fontweight='bold', ha='left', va='center')
ftext(8, 119, 'Pvalue', fontsize=12.5, rotation=90, ha='center', va='center')
ftext(180, 268, 'PC1', fontsize=12.5, ha='center', va='center')
ftext(328, 119, 'PIP', fontsize=12.5, rotation=90, ha='center', va='center')
ftext(498, 268, 'Pvalue', fontsize=12.5, ha='center', va='center')
ftext(6, 446, 'PC2', fontsize=12.5, rotation=90, ha='center', va='center')
ftext(291, 620, 'PC1', fontsize=12.5, ha='center', va='center')

# ---- legends
handles = [Line2D([], [], marker='o', ls='', color=ORANGE, markersize=3, markeredgewidth=0),
           Line2D([], [], marker='o', ls='', color=NAVY, markersize=3, markeredgewidth=0)]
leg = fig.legend(handles, ['1', '2'], title='Cluster', loc='upper left',
                 bbox_to_anchor=(553 / W, 1 - 308 / H), frameon=False, fontsize=10,
                 title_fontsize=12, handletextpad=0.9, labelspacing=0.8, alignment='left',
                 borderpad=0, handlelength=1.2)

ftext(559, 428, 'PIP', fontsize=12, ha='left', va='center')
cax = px_axes(559, 444, 585, 570)
greys = [(1 - (0.1 + 0.9 * i / 19),) * 3 for i in range(20)]
cb = fig.colorbar(ScalarMappable(norm=Normalize(0, 1), cmap=ListedColormap(greys)), cax=cax,
                  ticks=[0, 0.25, 0.5, 0.75])
cb.outline.set_visible(False)
cb.ax.set_yticklabels(['0.00', '0.25', '0.50', '0.75'])
cax.yaxis.set_ticks_position('both')
cax.tick_params(direction='in', length=5, width=1, color='white', labelsize=10,
                labelcolor='black', labelleft=False, labelright=True, pad=5)

fig.savefig('out.png', dpi=100)
